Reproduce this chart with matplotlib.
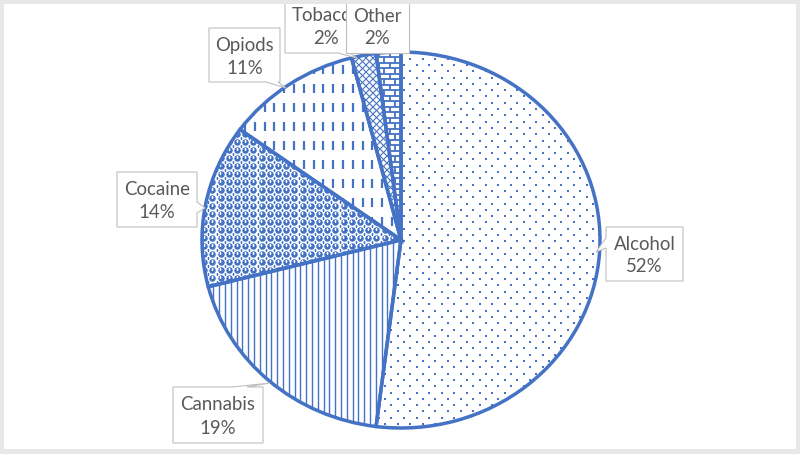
import numpy as np
import matplotlib
matplotlib.use('Agg')
import matplotlib.pyplot as plt
from matplotlib.patches import Polygon, Rectangle
from matplotlib.collections import LineCollection
from matplotlib.transforms import Affine2D

# ---------------- data ----------------
categories = ['Alcohol', 'Cannabis', 'Cocaine', 'Opiods', 'Tobacco', 'Other']
values = [52, 19, 14, 11, 2, 2]

# ---------------- layout / style ----------------
BLUE = '#4472C4'
TXT = '#595959'
CX, CY, RX, RY = 401, 240, 199, 188   # ellipse in pixel coords (y downwards)
callouts = {
    'Alcohol':  dict(box=(606, 227, 683, 281), side='left',   base=(238, 248), tip=(596, 252)),
    'Cannabis': dict(box=(173, 387, 263, 443), side='top',    base=(232, 247), tip=(270, 383)),
    'Cocaine':  dict(box=(117, 172, 197, 227), side='right',  base=(202, 213), tip=(205, 208)),
    'Opiods':   dict(box=(209, 28, 280, 82),   side='bottom', base=(266, 278), tip=(286, 88)),
    'Tobacco':  dict(box=(285, -2, 367, 53),   side='bottom', base=(338, 350), tip=(357, 58)),
    'Other':    dict(box=(346, -1, 409, 53),   side=None,     base=None,       tip=None),
}

plt.rcParams['font.family'] = ['Lato', 'DejaVu Sans']

fig = plt.figure(figsize=(8, 4.54), dpi=100)
ax = fig.add_axes([0, 0, 1, 1])

wedges, _ = ax.pie(values, startangle=90, counterclock=False, radius=1, center=(0, 0),
                   wedgeprops=dict(facecolor='none', edgecolor=BLUE, linewidth=2.5, zorder=3))
T = Affine2D().scale(RX, -RY).translate(CX, CY) + ax.transData
for w in wedges:
    w.set_transform(T)

ax.set_aspect('auto')
ax.set_xlim(0, 800)
ax.set_ylim(454, 0)
ax.axis('off')

X0, X1, Y0, Y1 = CX - RX - 6, CX + RX + 6, CY - RY - 6, CY + RY + 6


def clip(artists, wedge):
    for a in artists:
        a.set_clip_path(wedge)


# Alcohol: sparse dots
gy, gx = np.mgrid[0:int((Y1 - Y0) / 6.3) + 2, 0:int((X1 - X0) / 12.6) + 2]
px = X0 + gx * 12.6 + (gy % 2) * 6.3
py = Y0 + gy * 6.3
clip(ax.plot(px.ravel(), py.ravel(), ls='none', marker='s', ms=1.5, mew=0,
             color=BLUE, zorder=2), wedges[0])

# Cannabis: vertical lines
xs = np.arange(X0, X1, 5.8)
lc = LineCollection([[(x, Y0), (x, Y1)] for x in xs], colors=BLUE, linewidths=1.0, zorder=2)
ax.add_collection(lc)
clip([lc], wedges[1])

# Cocaine: sphere-like circles
gy, gx = np.mgrid[0:int((Y1 - Y0) / 8) + 2, 0:int((X1 - X0) / 8) + 2]
px = X0 + gx * 8.2
py = Y0 + gy * 8.0
a1 = ax.plot(px.ravel(), py.ravel(), ls='none', marker='o', ms=4.7, mew=0, color=BLUE, zorder=2)
a2 = ax.plot(px.ravel() + 4.1, py.ravel() + 4.0, ls='none', marker='s', ms=1.3, mew=0, color=BLUE, zorder=2)
a3 = ax.plot(px.ravel() - 0.3, py.ravel() - 1.5, ls='none', marker='s', ms=1.3, mew=0, color='white', zorder=2.1)
clip(a1 + a2 + a3, wedges[2])

# Opiods: dashed vertical lines
segs = []
for x in np.arange(X0, X1, 9.8):
    for y in np.arange(Y0, Y1, 19):
        segs.append([(x, y), (x, y + 9)])
lc = LineCollection(segs, colors=BLUE, linewidths=1.6, zorder=2)
ax.add_collection(lc)
clip([lc], wedges[3])

# Tobacco: diagonal cross hatch
segs = []
for c in np.arange(X0 - Y1, X1 - Y0, 7):
    segs.append([(X0, X0 - c), (X1, X1 - c)])
for c in np.arange(X0 + Y0, X1 + Y1, 7):
    segs.append([(X0, c - X0), (X1, c - X1)])
lc = LineCollection(segs, colors=BLUE, linewidths=0.8, zorder=2)
ax.add_collection(lc)
clip([lc], wedges[4])

# Other: bricks
segs = []
ys = np.arange(Y0, CY, 5.5)
for i, y in enumerate(ys):
    segs.append([(360, y), (410, y)])
    for x in np.arange(362 + (i % 2) * 5.5, 410, 11):
        segs.append([(x, y), (x, y + 5.5)])
lc = LineCollection(segs, colors=BLUE, linewidths=1.3, zorder=2)
ax.add_collection(lc)
clip([lc], wedges[5])


# ---------------- callouts ----------------
def callout_poly(box, side, base, tip):
    x0, y0, x1, y1 = box
    pts = [(x0, y0)]
    if side == 'top':
        pts += [(base[0], y0), tip, (base[1], y0)]
    pts.append((x1, y0))
    if side == 'right':
        pts += [(x1, base[0]), tip, (x1, base[1])]
    pts.append((x1, y1))
    if side == 'bottom':
        pts += [(base[1], y1), tip, (base[0], y1)]
    pts.append((x0, y1))
    if side == 'left':
        pts += [(x0, base[1]), tip, (x0, base[0])]
    return pts


z = 5
for cat, val in zip(categories, values):
    c = callouts[cat]
    poly = Polygon(callout_poly(c['box'], c['side'], c['base'], c['tip']), closed=True,
                   facecolor='white', edgecolor='#BFBFBF', linewidth=0.8, zorder=z)
    ax.add_patch(poly)
    x0, y0, x1, y1 = c['box']
    cxb, cyb = (x0 + x1) / 2, (y0 + y1) / 2
    ax.text(cxb, cyb - 4.5, cat, ha='center', va='baseline', fontsize=13.4, color=TXT, zorder=z + 1)
    ax.text(cxb, cyb + 18.5, f'{val}%', ha='center', va='baseline', fontsize=13.4, color=TXT, zorder=z + 1)
    z += 2

# ---------------- outer frame ----------------
for r in [(0, 0, 4, 454), (0, 0, 800, 4), (796, 0, 4, 454), (0, 449, 800, 5)]:
    ax.add_patch(Rectangle((r[0], r[1]), r[2], r[3], facecolor='#E7E7E7', edgecolor='none', zorder=50))

fig.savefig('out.png', dpi=100)
